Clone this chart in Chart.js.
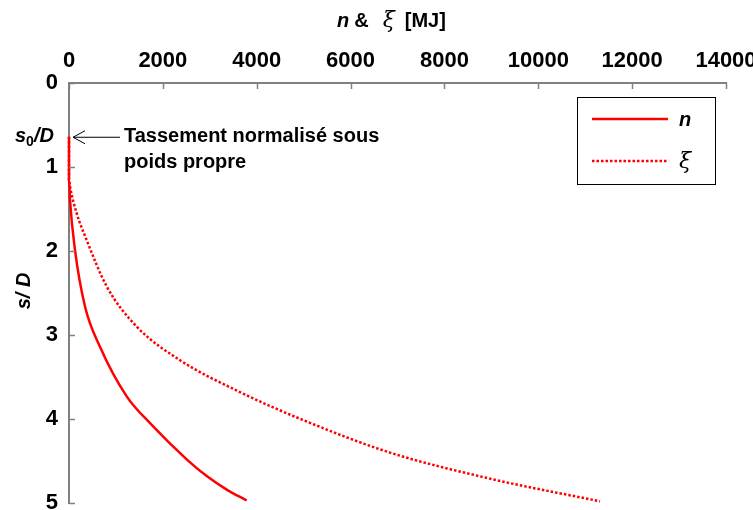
<!DOCTYPE html>
<html>
<head>
<meta charset="utf-8">
<script src="https://cdn.jsdelivr.net/npm/chart.js@4/dist/chart.umd.min.js"></script>
<style>
  html, body { margin: 0; padding: 0; background: #fff; }
  #wrap { width: 753px; height: 510px; position: relative; }
</style>
</head>
<body>
<div id="wrap"><canvas id="chart"></canvas></div>
<script>
// values: s/D (depth) vs energy [MJ]
const sD_n = [0.64, 1.15, 1.39, 1.99, 2.66, 3.14, 3.73, 4.07, 4.48, 4.68, 4.84, 4.97];
const energyN = [0, 0, 21, 128, 341, 660, 1229, 1762, 2508, 2934, 3360, 3786];

const sD_xi = [0.64, 1.15, 1.23, 1.55, 1.87, 2.42, 2.90, 3.30, 3.68, 4.03, 4.40, 4.71, 4.98];
const energyXi = [0, 0, 21, 163, 376, 802, 1442, 2365, 3644, 5065, 6840, 8970, 11315];

const xTicks = [0, 2000, 4000, 6000, 8000, 10000, 12000, 14000];
const yTicks = [0, 1, 2, 3, 4, 5];
const s0D = 0.64;

const RED = "#ff0000";
const AXIS = "#808080";
const FONT = "'Liberation Sans', Arial, sans-serif";

const toPoints = (xs, ys) => xs.map((x, i) => ({ x, y: ys[i] }));

// draw mixed-style runs of text left to right
function drawRuns(ctx, runs, x, y) {
  runs.forEach(run => {
    ctx.font = run.font;
    const dy = run.dy ?? 0;
    ctx.fillText(run.text, x, y + dy);
    x += ctx.measureText(run.text).width + (run.gap ?? 0);
  });
  return x;
}

// keep label overflow from shrinking the plot area
function noScalePadding(scale) {
  scale.paddingTop = 0;
  scale.paddingBottom = 0;
  scale.paddingLeft = 0;
  scale.paddingRight = 0;
}

const extras = {
  id: "extras",
  afterDraw(chart) {
    const { ctx, scales } = chart;
    const xs = scales.x, ys = scales.y;
    ctx.save();
    ctx.fillStyle = "#000";
    ctx.textBaseline = "middle";
    ctx.textAlign = "left";

    // inward tick marks
    ctx.strokeStyle = AXIS;
    ctx.lineWidth = 1.5;
    xTicks.forEach(v => {
      const px = Math.round(xs.getPixelForValue(v)) + 0.5;
      ctx.beginPath();
      ctx.moveTo(px, ys.top);
      ctx.lineTo(px, ys.top + 6);
      ctx.stroke();
    });
    yTicks.forEach(v => {
      const py = Math.round(ys.getPixelForValue(v)) + 0.5;
      ctx.beginPath();
      ctx.moveTo(xs.left, py);
      ctx.lineTo(xs.left + 6, py);
      ctx.stroke();
    });

    // top axis title: n & ξ [MJ]
    const bi = `italic bold 20px ${FONT}`;
    const b = `bold 20px ${FONT}`;
    const it = `italic 22px 'DejaVu Serif', serif`;
    drawRuns(ctx, [
      { text: "n", font: bi, gap: 5 },
      { text: "&", font: b, gap: 14 },
      { text: "ξ", font: it, gap: 10 },
      { text: "[MJ]", font: b }
    ], 337, 21);

    // left axis title: s/ D (rotated)
    ctx.save();
    ctx.translate(24, 291);
    ctx.rotate(-Math.PI / 2);
    ctx.textAlign = "center";
    ctx.font = bi;
    ctx.fillText("s/ D", 0, 0);
    ctx.restore();

    // s0/D marker and annotation
    const yS0 = ys.getPixelForValue(s0D);
    drawRuns(ctx, [
      { text: "s", font: bi },
      { text: "0", font: `bold 14px ${FONT}`, dy: 5 },
      { text: "/D", font: bi }
    ], 15, yS0);

    ctx.strokeStyle = "#000";
    ctx.lineWidth = 1;
    const tip = xs.left + 4;
    ctx.beginPath();
    ctx.moveTo(120, yS0 + 0.5);
    ctx.lineTo(tip, yS0 + 0.5);
    ctx.moveTo(tip + 12, yS0 - 6);
    ctx.lineTo(tip, yS0 + 0.5);
    ctx.lineTo(tip + 12, yS0 + 7);
    ctx.stroke();

    ctx.font = b;
    ctx.fillText("Tassement normalisé sous", 124, yS0);
    ctx.fillText("poids propre", 124, yS0 + 26);

    // legend box
    ctx.strokeStyle = "#000";
    ctx.lineWidth = 1;
    ctx.strokeRect(577.5, 97.5, 138, 87);
    chart.data.datasets.forEach((ds, i) => {
      const ly = 119 + i * 42;
      ctx.strokeStyle = ds.borderColor;
      ctx.lineWidth = ds.borderWidth;
      ctx.setLineDash(ds.borderDash || []);
      ctx.beginPath();
      ctx.moveTo(592, ly);
      ctx.lineTo(668, ly);
      ctx.stroke();
      ctx.setLineDash([]);
      ctx.fillStyle = "#000";
      ctx.font = i === 0 ? bi : it;
      ctx.fillText(ds.label, 679, ly + 1);
    });
    ctx.restore();
  }
};

new Chart(document.getElementById("chart"), {
  type: "scatter",
  data: {
    datasets: [
      {
        label: "n",
        data: toPoints(energyN, sD_n),
        showLine: true,
        borderColor: RED,
        borderWidth: 2.5,
        pointRadius: 0,
        clip: 4,
        cubicInterpolationMode: "monotone"
      },
      {
        label: "ξ",
        data: toPoints(energyXi, sD_xi),
        showLine: true,
        borderColor: RED,
        borderWidth: 2.5,
        borderDash: [2.5, 2],
        pointRadius: 0,
        clip: 4,
        cubicInterpolationMode: "monotone"
      }
    ]
  },
  plugins: [extras],
  options: {
    responsive: true,
    maintainAspectRatio: false,
    animation: false,
    layout: { padding: { left: 0, top: 0, right: 27, bottom: 7 } },
    plugins: {
      legend: { display: false },
      tooltip: { enabled: false }
    },
    scales: {
      x: {
        type: "linear",
        position: "top",
        min: 0,
        max: 14000,
        afterBuildTicks: scale => { scale.ticks = xTicks.map(value => ({ value })); },
        afterFit: scale => { scale.height = 83; noScalePadding(scale); },
        grid: { display: true, drawOnChartArea: false, drawTicks: false },
        border: { color: AXIS, width: 2 },
        ticks: {
          padding: 9,
          color: "#000",
          font: { family: FONT, size: 22, weight: "bold" },
          maxRotation: 0,
          callback: value => String(value)
        }
      },
      y: {
        type: "linear",
        reverse: true,
        min: 0,
        max: 5,
        afterBuildTicks: scale => { scale.ticks = yTicks.map(value => ({ value })); },
        afterFit: scale => { scale.width = 69; noScalePadding(scale); },
        grid: { display: true, drawOnChartArea: false, drawTicks: false },
        border: { color: AXIS, width: 2 },
        ticks: {
          padding: 11,
          color: "#000",
          font: { family: FONT, size: 22, weight: "bold" },
          callback: value => String(value)
        }
      }
    }
  }
});
</script>
</body>
</html>
